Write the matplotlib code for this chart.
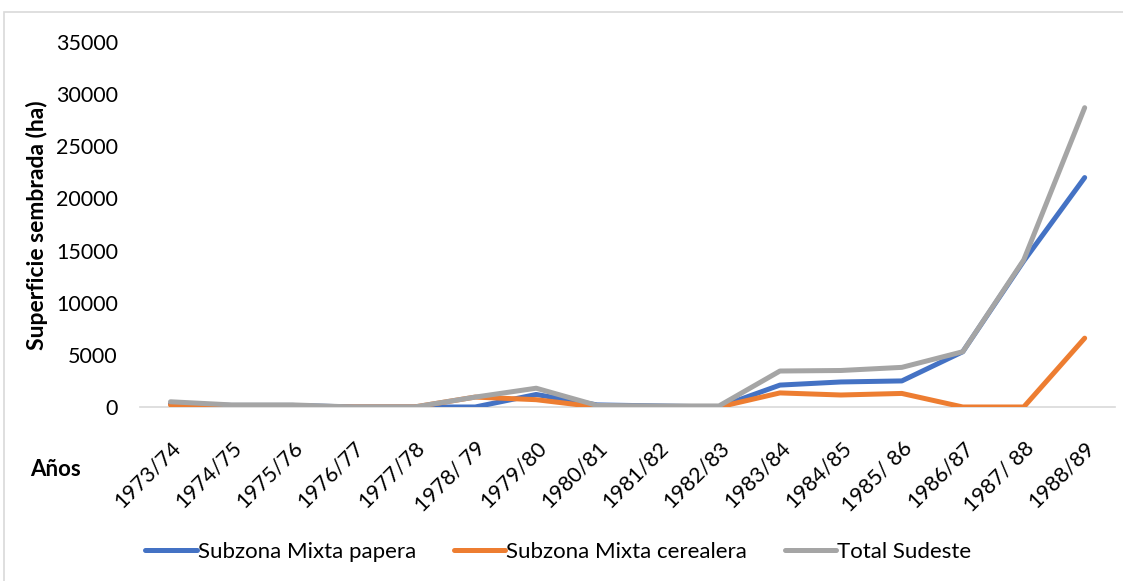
import matplotlib.pyplot as plt
from matplotlib.patches import Rectangle

# campañas y superficie sembrada (ha)
campanias = ['1973/74', '1974/75', '1975/76', '1976/77', '1977/78', '1978/ 79',
             '1979/80', '1980/81', '1981/82', '1982/83', '1983/84', '1984/85',
             '1985/ 86', '1986/87', '1987/ 88', '1988/89']
mixta_papera = [300, 150, 150, 0, 0, 0, 1200, 200, 100, 0,
                2100, 2400, 2500, 5300, 14000, 22000]
mixta_cerealera = [200, 0, 0, 0, 0, 950, 700, 0, 0, 0,
                   1350, 1150, 1300, 0, 0, 6600]
total_sudeste = [500, 200, 200, 0, 0, 950, 1800, 150, 100, 100,
                 3450, 3500, 3800, 5300, 14100, 28700]
yticks = [0, 5000, 10000, 15000, 20000, 25000, 30000, 35000]

plt.rcParams['font.family'] = ['Lato', 'DejaVu Sans']

fig = plt.figure(figsize=(11.23, 5.81), dpi=100)
# marco del gráfico
fig.patches.append(Rectangle((4 / 1123, -0.1), 1.2, 1 - 12 / 581 + 0.1,
                             transform=fig.transFigure, fill=False,
                             edgecolor='#d9d9d9', linewidth=1.2))

ax = fig.add_axes([0.1247, 0.2995, 0.993 - 0.1247, 0.9277 - 0.2995])
x = range(len(campanias))
ax.plot(x, mixta_papera, color='#4472C4', lw=3.6, solid_capstyle='round',
        solid_joinstyle='round', label='Subzona Mixta papera')
ax.plot(x, mixta_cerealera, color='#ED7D31', lw=3.6, solid_capstyle='round',
        solid_joinstyle='round', label='Subzona Mixta cerealera')
ax.plot(x, total_sudeste, color='#A5A5A5', lw=3.6, solid_capstyle='round',
        solid_joinstyle='round', label='Total Sudeste')

ax.set_xlim(-0.5, len(campanias) - 0.5)
ax.set_ylim(0, 35000)
ax.set_yticks(yticks)
ax.set_yticklabels([str(v) for v in yticks], fontsize=15.5)
ax.set_xticks(list(x))
ax.set_xticklabels(campanias, rotation=45, ha='right', rotation_mode='anchor',
                   fontsize=15.5)
ax.tick_params(axis='both', length=0)
ax.tick_params(axis='y', pad=16)
ax.tick_params(axis='x', pad=22)
for s in ['top', 'right', 'left']:
    ax.spines[s].set_visible(False)
ax.spines['bottom'].set_color('#d9d9d9')
ax.spines['bottom'].set_linewidth(1.2)
ax.spines['bottom'].set_zorder(0)

fig.text(37 / 1123, 1 - 225 / 581, 'Superficie sembrada (ha)', rotation=90,
         ha='center', va='center', fontsize=16.5, fontweight='bold')
fig.text(56 / 1123, 1 - 470 / 581, 'Años', ha='center', va='center',
         fontsize=16, fontweight='bold')

fig.legend(loc='center', bbox_to_anchor=(0.497, 1 - 552 / 581), ncol=3,
           frameon=False, fontsize=16, handlelength=2.3, handletextpad=0.05,
           columnspacing=1.7)

fig.savefig('out.png', dpi=100)
